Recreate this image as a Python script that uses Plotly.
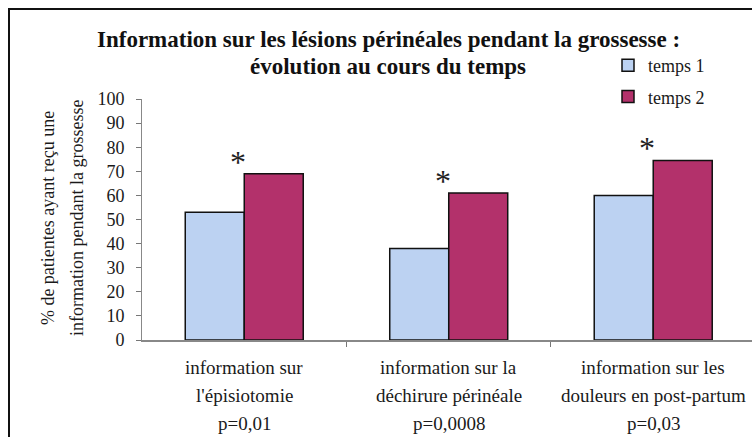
import plotly.graph_objects as go

# Data
cat_line1 = ["information sur", "information sur la", "information sur les"]
cat_line2 = ["l'épisiotomie", "déchirure périnéale", "douleurs en post-partum"]
p_values = ["p=0,01", "p=0,0008", "p=0,03"]
temps1 = [53, 38, 60]
temps2 = [69, 61, 74.5]
significant = [True, True, True]

SERIF = "Liberation Serif"
BLUE = "#bcd2f2"
MAGENTA = "#b3316b"

x = list(range(len(cat_line1)))

fig = go.Figure()
fig.add_trace(go.Bar(
    x=x, y=temps1, name="temps 1", legendgroup="t1",
    marker=dict(color=BLUE, line=dict(color="#111111", width=1.5)),
))
fig.add_trace(go.Bar(
    x=x, y=temps2, name="temps 2", legendgroup="t2",
    marker=dict(color=MAGENTA, line=dict(color="#111111", width=1.5)),
))

annotations = []
# category labels, three lines each
for i in x:
    for k, txt in enumerate([cat_line1[i], cat_line2[i], p_values[i]]):
        annotations.append(dict(
            x=i, xref="x", y=0, yref="paper", yanchor="middle",
            yshift=-27 - 28 * k, text=txt, showarrow=False,
            font=dict(family=SERIF, size=19, color="#1a1a1a"),
        ))
# significance markers
for i in x:
    if significant[i]:
        annotations.append(dict(
            x=i - 0.03, xref="x", y=temps2[i], yref="y", yanchor="middle",
            yshift=12, text="*", showarrow=False,
            font=dict(family=SERIF, size=32, color="#222222"),
        ))
# y-axis title (two lines)
for xp, txt in [(-0.154, "% de patientes ayant reçu une"),
                (-0.1066, "information pendant la grossesse")]:
    annotations.append(dict(
        x=xp, xref="paper", y=0.506, yref="paper", textangle=-90,
        xanchor="center", yanchor="middle", text=txt, showarrow=False,
        font=dict(family=SERIF, size=18, color="#1a1a1a"),
    ))
# title (two lines)
for yp, txt in [(40, "Information sur les lésions périnéales pendant la grossesse :"),
                (66, "évolution au cours du temps")]:
    annotations.append(dict(
        x=(388 - 142) / 610, xref="paper", y=(340 - yp) / 241, yref="paper",
        xanchor="center", yanchor="middle", text="<b>" + txt + "</b>",
        showarrow=False,
        font=dict(family=SERIF, size=23, color="#111111"),
    ))

fig.update_layout(
    width=752, height=437,
    margin=dict(l=142, r=0, t=99, b=97),
    paper_bgcolor="white", plot_bgcolor="white",
    barmode="group", bargap=0.423, bargroupgap=0,
    showlegend=True,
    legend=dict(
        x=(608 - 142) / 610, y=(340 - 47) / 241, xanchor="left", yanchor="top",
        font=dict(family=SERIF, size=18, color="#1a1a1a"),
        traceorder="grouped", tracegroupgap=5, bgcolor="rgba(0,0,0,0)",
        itemwidth=30,
    ),
    xaxis=dict(
        range=[-0.5, 2.483], showticklabels=False, ticks="outside",
        tickvals=[0.5, 1.5], ticklen=5, tickcolor="#777777",
        showline=True, linecolor="#888888", linewidth=1.5,
        showgrid=False, zeroline=False, fixedrange=True,
    ),
    yaxis=dict(
        range=[0, 100], tickvals=list(range(0, 101, 10)),
        ticks="outside", ticklen=5, tickcolor="#777777",
        ticklabelstandoff=8,
        showline=True, linecolor="#888888", linewidth=1,
        showgrid=False, zeroline=False,
        tickfont=dict(family=SERIF, size=18, color="#1a1a1a"),
    ),
    annotations=annotations,
    shapes=[dict(
        type="rect", xref="paper", yref="paper",
        x0=(9 - 142) / 610, x1=1.05, y0=-0.5, y1=(340 - 9) / 241,
        line=dict(color="#111111", width=2), fillcolor="rgba(0,0,0,0)",
        layer="above",
    )],
)

fig.write_html("out.html")
